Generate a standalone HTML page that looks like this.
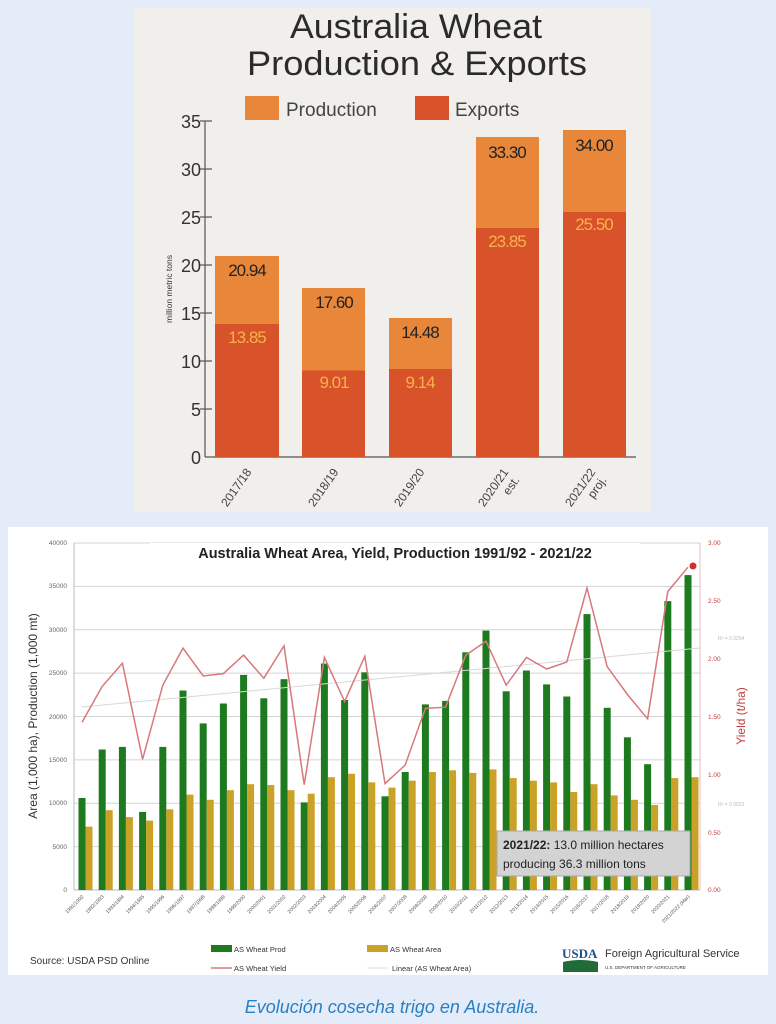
<!DOCTYPE html>
<html><head><meta charset="utf-8"><style>
html,body{margin:0;padding:0;background:#e3ecf8;}
svg{display:block;font-family:"Liberation Sans",sans-serif;}
</style></head><body>
<svg width="776" height="1024" viewBox="0 0 776 1024" xmlns="http://www.w3.org/2000/svg">
<rect width="776" height="1024" fill="#e3ecf8"/>
<!-- TOP CHART -->
<rect x="134" y="8" width="517" height="504" fill="#f1efec"/>
<g fill="#2b2b2b" font-size="34" text-anchor="middle">
<text x="416" y="38" textLength="252" lengthAdjust="spacingAndGlyphs">Australia Wheat</text>
<text x="417" y="75" textLength="340" lengthAdjust="spacingAndGlyphs">Production &amp; Exports</text>
</g>
<rect x="245" y="96" width="34" height="24" fill="#e8873a"/>
<text x="286" y="116" font-size="19" fill="#444">Production</text>
<rect x="415" y="96" width="34" height="24" fill="#d9532a"/>
<text x="455" y="116" font-size="19" fill="#444">Exports</text>
<g stroke="#555" stroke-width="1.2">
<line x1="205" y1="121" x2="205" y2="457"/>
<line x1="205" y1="457" x2="636" y2="457"/>
<line x1="200" y1="121" x2="212" y2="121"/><line x1="200" y1="169" x2="212" y2="169"/><line x1="200" y1="217" x2="212" y2="217"/><line x1="200" y1="265" x2="212" y2="265"/><line x1="200" y1="313" x2="212" y2="313"/><line x1="200" y1="361" x2="212" y2="361"/><line x1="200" y1="409" x2="212" y2="409"/>
</g>
<g font-size="18" fill="#333" text-anchor="end">
<text x="201" y="128">35</text><text x="201" y="176">30</text><text x="201" y="224">25</text><text x="201" y="272">20</text><text x="201" y="320">15</text><text x="201" y="368">10</text><text x="201" y="416">5</text><text x="201" y="464">0</text>
</g>
<text transform="translate(172,289) rotate(-90)" font-size="8.5" fill="#333" text-anchor="middle">million metric tons</text>
<rect x="215" y="256" width="64" height="201" fill="#e8873a"/>
<rect x="215" y="324" width="64" height="133" fill="#d9532a"/>
<rect x="302" y="288" width="63" height="169" fill="#e8873a"/>
<rect x="302" y="370.5" width="63" height="86.5" fill="#d9532a"/>
<rect x="389" y="318" width="63" height="139" fill="#e8873a"/>
<rect x="389" y="369" width="63" height="88" fill="#d9532a"/>
<rect x="476" y="137" width="63" height="320" fill="#e8873a"/>
<rect x="476" y="228" width="63" height="229" fill="#d9532a"/>
<rect x="563" y="130" width="63" height="327" fill="#e8873a"/>
<rect x="563" y="212" width="63" height="245" fill="#d9532a"/>
<g font-size="17" text-anchor="middle" letter-spacing="-1">
<text x="247" y="276" fill="#222">20.94</text>
<text x="334" y="308" fill="#222">17.60</text>
<text x="420" y="338" fill="#222">14.48</text>
<text x="507" y="158" fill="#222">33.30</text>
<text x="594" y="151" fill="#222">34.00</text>
<text x="247" y="343" fill="#f6b24a">13.85</text>
<text x="334" y="388" fill="#f6b24a">9.01</text>
<text x="420" y="388" fill="#f6b24a">9.14</text>
<text x="507" y="247" fill="#f6b24a">23.85</text>
<text x="594" y="230" fill="#f6b24a">25.50</text>
</g>
<g font-size="12" fill="#444" text-anchor="end">
<text transform="translate(252,472) rotate(-55)">2017/18</text>
<text transform="translate(339,472) rotate(-55)">2018/19</text>
<text transform="translate(425,472) rotate(-55)">2019/20</text>
<text transform="translate(509,472) rotate(-55)">2020/21</text>
<text transform="translate(520,480) rotate(-55)">est.</text>
<text transform="translate(596,472) rotate(-55)">2021/22</text>
<text transform="translate(607,480) rotate(-55)">proj.</text>
</g>
<!-- BOTTOM CHART -->
<rect x="8" y="527" width="760" height="448" fill="#fff"/>
<g stroke="#d4d4d4" stroke-width="1">
<line x1="74" y1="543" x2="700" y2="543"/><line x1="74" y1="586.4" x2="700" y2="586.4"/><line x1="74" y1="629.75" x2="700" y2="629.75"/><line x1="74" y1="673.1" x2="700" y2="673.1"/><line x1="74" y1="716.5" x2="700" y2="716.5"/><line x1="74" y1="759.9" x2="700" y2="759.9"/><line x1="74" y1="803.25" x2="700" y2="803.25"/><line x1="74" y1="846.6" x2="700" y2="846.6"/>
</g>
<line x1="74" y1="543" x2="74" y2="890" stroke="#bbb"/>
<line x1="74" y1="890" x2="700" y2="890" stroke="#bbb"/>
<line x1="700" y1="543" x2="700" y2="890" stroke="#e8bcbc"/>
<rect x="150" y="543" width="490" height="22" fill="#fff"/>
<text x="395" y="558" font-size="14.5" font-weight="bold" fill="#222" text-anchor="middle">Australia Wheat Area, Yield, Production 1991/92 - 2021/22</text>
<g font-size="6.5" fill="#666" text-anchor="end">
<text x="67" y="545">40000</text><text x="67" y="588">35000</text><text x="67" y="632">30000</text><text x="67" y="675">25000</text><text x="67" y="719">20000</text><text x="67" y="762">15000</text><text x="67" y="805">10000</text><text x="67" y="849">5000</text><text x="67" y="892">0</text>
</g>
<g font-size="6.5" fill="#c04040">
<text x="708" y="545">3.00</text><text x="708" y="603">2.50</text><text x="708" y="661">2.00</text><text x="708" y="719">1.50</text><text x="708" y="777">1.00</text><text x="708" y="835">0.50</text><text x="708" y="892">0.00</text>
</g>
<text transform="translate(37,716) rotate(-90)" font-size="12" fill="#333" text-anchor="middle">Area (1,000 ha), Production (1,000 mt)</text>
<text transform="translate(745,716) rotate(-90)" font-size="12" fill="#c04040" text-anchor="middle">Yield (t/ha)</text>
<g fill="#1e7a1e">
<rect x="78.5" y="798" width="7" height="92"/><rect x="98.7" y="749.5" width="7" height="140.5"/><rect x="118.9" y="746.9" width="7" height="143.1"/><rect x="139.1" y="811.9" width="7" height="78.1"/><rect x="159.3" y="746.9" width="7" height="143.1"/><rect x="179.5" y="690.5" width="7" height="199.5"/><rect x="199.7" y="723.4" width="7" height="166.6"/><rect x="219.9" y="703.5" width="7" height="186.5"/><rect x="240.1" y="674.9" width="7" height="215.1"/><rect x="260.3" y="698.3" width="7" height="191.7"/><rect x="280.5" y="679.2" width="7" height="210.8"/><rect x="300.7" y="802.4" width="7" height="87.6"/><rect x="320.9" y="663.6" width="7" height="226.4"/><rect x="341.1" y="700" width="7" height="190"/><rect x="361.3" y="672.3" width="7" height="217.7"/><rect x="381.5" y="796.3" width="7" height="93.7"/><rect x="401.7" y="772" width="7" height="118"/><rect x="421.9" y="704.4" width="7" height="185.6"/><rect x="442.1" y="700.9" width="7" height="189.1"/><rect x="462.3" y="652.3" width="7" height="237.7"/><rect x="482.5" y="630.6" width="7" height="259.4"/><rect x="502.7" y="691.3" width="7" height="198.7"/><rect x="522.9" y="670.5" width="7" height="219.5"/><rect x="543.1" y="684.4" width="7" height="205.6"/><rect x="563.3" y="696.5" width="7" height="193.5"/><rect x="583.5" y="614.1" width="7" height="275.9"/><rect x="603.7" y="707.8" width="7" height="182.2"/><rect x="623.9" y="737.3" width="7" height="152.7"/><rect x="644.1" y="764.2" width="7" height="125.8"/><rect x="664.3" y="601.1" width="7" height="288.9"/><rect x="684.5" y="575.1" width="7" height="314.9"/>
</g>
<g fill="#c9a227">
<rect x="85.5" y="826.7" width="7" height="63.3"/><rect x="105.7" y="810.2" width="7" height="79.8"/><rect x="125.9" y="817.1" width="7" height="72.9"/><rect x="146.1" y="820.6" width="7" height="69.4"/><rect x="166.3" y="809.3" width="7" height="80.7"/><rect x="186.5" y="794.6" width="7" height="95.4"/><rect x="206.7" y="799.8" width="7" height="90.2"/><rect x="226.9" y="790.2" width="7" height="99.8"/><rect x="247.1" y="784.2" width="7" height="105.8"/><rect x="267.3" y="785" width="7" height="105"/><rect x="287.5" y="790.2" width="7" height="99.8"/><rect x="307.7" y="793.7" width="7" height="96.3"/><rect x="327.9" y="777.2" width="7" height="112.8"/><rect x="348.1" y="773.8" width="7" height="116.2"/><rect x="368.3" y="782.4" width="7" height="107.6"/><rect x="388.5" y="787.6" width="7" height="102.4"/><rect x="408.7" y="780.7" width="7" height="109.3"/><rect x="428.9" y="772" width="7" height="118"/><rect x="449.1" y="770.3" width="7" height="119.7"/><rect x="469.3" y="772.9" width="7" height="117.1"/><rect x="489.5" y="769.4" width="7" height="120.6"/><rect x="509.7" y="778.1" width="7" height="111.9"/><rect x="529.9" y="780.7" width="7" height="109.3"/><rect x="550.1" y="782.4" width="7" height="107.6"/><rect x="570.3" y="792" width="7" height="98"/><rect x="590.5" y="784.2" width="7" height="105.8"/><rect x="610.7" y="795.4" width="7" height="94.6"/><rect x="630.9" y="799.8" width="7" height="90.2"/><rect x="651.1" y="805" width="7" height="85"/><rect x="671.3" y="778.1" width="7" height="111.9"/><rect x="691.5" y="777.2" width="7" height="112.8"/>
</g>
<line x1="82" y1="707" x2="700" y2="648" stroke="#d8d8d8" stroke-width="1"/>
<polyline fill="none" stroke="#d9787a" stroke-width="1.5" points="82,722.2 102.2,686.4 122.4,663.2 142.6,759.3 162.8,685.2 183,648.2 203.2,676 223.4,673.6 243.6,655.1 263.8,678.3 284,645.9 304.2,784.7 324.4,657.4 344.6,701.4 364.8,656.3 385,783.6 405.2,765 425.4,708.4 445.6,707.2 465.8,655.1 486,641.2 506.2,685.2 526.4,657.4 546.6,669 566.8,662.1 587,588 607.2,666.7 627.4,694.5 647.6,718.8 667.8,591.5 688,567.2"/>
<circle cx="693" cy="566" r="3.5" fill="#d03030"/>
<text x="718" y="640" font-size="5" fill="#bbb">R² = 0.3254</text>
<text x="718" y="806" font-size="5" fill="#bbb">R² = 0.3023</text>
<rect x="497" y="831" width="193" height="45" fill="#d3d3d3" stroke="#aaa"/>
<text x="503" y="849" font-size="12" fill="#222"><tspan font-weight="bold">2021/22:</tspan> 13.0 million hectares</text>
<text x="503" y="868" font-size="12" fill="#222">producing 36.3 million tons</text>
<g font-size="5" fill="#555" text-anchor="end">
<text transform="translate(84,897) rotate(-45)">1991/1992</text><text transform="translate(104.2,897) rotate(-45)">1992/1993</text><text transform="translate(124.4,897) rotate(-45)">1993/1994</text><text transform="translate(144.6,897) rotate(-45)">1994/1995</text><text transform="translate(164.8,897) rotate(-45)">1995/1996</text><text transform="translate(185,897) rotate(-45)">1996/1997</text><text transform="translate(205.2,897) rotate(-45)">1997/1998</text><text transform="translate(225.4,897) rotate(-45)">1998/1999</text><text transform="translate(245.6,897) rotate(-45)">1999/2000</text><text transform="translate(265.8,897) rotate(-45)">2000/2001</text><text transform="translate(286,897) rotate(-45)">2001/2002</text><text transform="translate(306.2,897) rotate(-45)">2002/2003</text><text transform="translate(326.4,897) rotate(-45)">2003/2004</text><text transform="translate(346.6,897) rotate(-45)">2004/2005</text><text transform="translate(366.8,897) rotate(-45)">2005/2006</text><text transform="translate(387,897) rotate(-45)">2006/2007</text><text transform="translate(407.2,897) rotate(-45)">2007/2008</text><text transform="translate(427.4,897) rotate(-45)">2008/2009</text><text transform="translate(447.6,897) rotate(-45)">2009/2010</text><text transform="translate(467.8,897) rotate(-45)">2010/2011</text><text transform="translate(488,897) rotate(-45)">2011/2012</text><text transform="translate(508.2,897) rotate(-45)">2012/2013</text><text transform="translate(528.4,897) rotate(-45)">2013/2014</text><text transform="translate(548.6,897) rotate(-45)">2014/2015</text><text transform="translate(568.8,897) rotate(-45)">2015/2016</text><text transform="translate(589,897) rotate(-45)">2016/2017</text><text transform="translate(609.2,897) rotate(-45)">2017/2018</text><text transform="translate(629.4,897) rotate(-45)">2018/2019</text><text transform="translate(649.6,897) rotate(-45)">2019/2020</text><text transform="translate(669.8,897) rotate(-45)">2020/2021</text><text transform="translate(690,897) rotate(-45)">2021/2022 (Mar)</text>
</g>
<text x="30" y="964" font-size="10" fill="#333">Source: USDA PSD Online</text>
<rect x="211" y="945" width="21" height="7" fill="#1e7a1e"/>
<text x="234" y="952" font-size="7.5" fill="#333">AS Wheat Prod</text>
<line x1="211" y1="968" x2="232" y2="968" stroke="#d9787a" stroke-width="1.5"/>
<text x="234" y="971" font-size="7.5" fill="#333">AS Wheat Yield</text>
<rect x="367" y="945" width="21" height="7" fill="#c9a227"/>
<text x="390" y="952" font-size="7.5" fill="#333">AS Wheat Area</text>
<line x1="367" y1="968" x2="388" y2="968" stroke="#ddd"/>
<text x="392" y="971" font-size="7.5" fill="#333">Linear (AS Wheat Area)</text>
<text x="562" y="958" font-size="13" font-family="Liberation Serif,serif" fill="#1f4e8c" font-weight="bold">USDA</text>
<path d="M563 962 Q580 958 598 962 L598 972 L563 972 Z" fill="#1f6b3a"/>
<text x="605" y="957" font-size="11" fill="#333">Foreign Agricultural Service</text>
<text x="605" y="969" font-size="4.5" fill="#333">U.S. DEPARTMENT OF AGRICULTURE</text>
<text x="392" y="1013" font-size="18" font-style="italic" fill="#2a80c4" text-anchor="middle">Evolución cosecha trigo en Australia.</text>
</svg>
</body></html>
